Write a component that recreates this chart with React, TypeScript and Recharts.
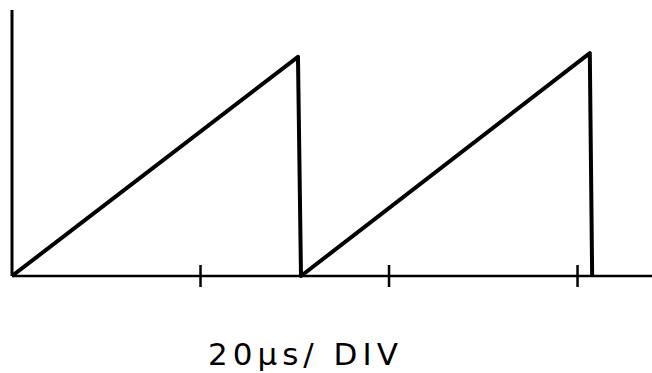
import { LineChart, Line, XAxis, YAxis } from 'recharts';

// sweep time in µs and ramp level in divisions
const sweepTimes = [0, 30.34, 30.66, 61.3, 61.55];
const rampLevels = [0, 4.12, 0, 4.19, 0];
const divisionTicks = [20, 40, 60];
const timeDomain = [0, 67.9];
const levelDomain = [0, 5];
const scaleLabel = '20µs/ DIV';

const data = sweepTimes.map((t, i) => ({ t, v: rampLevels[i] }));

function CrossTick({ x, y }: { x?: number; y?: number }) {
  if (x == null || y == null) return null;
  return <line x1={x} x2={x} y1={y - 11} y2={y + 11} stroke="#000" strokeWidth={2.5} />;
}

export default function App() {
  return (
    <div style={{ position: 'relative', width: 652, height: 373, background: '#fff' }}>
      <style>{'body{margin:0}'}</style>
      <LineChart width={652} height={373} data={data} margin={{ top: 10, right: 0, bottom: 0, left: 0 }}>
        <XAxis
          type="number"
          dataKey="t"
          domain={timeDomain}
          ticks={divisionTicks}
          allowDataOverflow
          height={97}
          tickSize={0}
          tickMargin={0}
          tickLine={false}
          tick={<CrossTick />}
          axisLine={{ stroke: '#000', strokeWidth: 2.5 }}
        />
        <YAxis
          type="number"
          domain={levelDomain}
          width={12}
          tick={false}
          tickLine={false}
          axisLine={{ stroke: '#000', strokeWidth: 3 }}
        />
        <Line
          type="linear"
          dataKey="v"
          stroke="#000"
          strokeWidth={4}
          strokeLinejoin="round"
          dot={false}
          activeDot={false}
          isAnimationActive={false}
        />
      </LineChart>
      <div
        style={{
          position: 'absolute',
          left: 208,
          top: 339,
          fontFamily: '"DejaVu Sans", sans-serif',
          fontSize: 31,
          lineHeight: '31px',
          letterSpacing: 5,
          color: '#000',
          whiteSpace: 'nowrap',
        }}
      >
        {scaleLabel}
      </div>
    </div>
  );
}
